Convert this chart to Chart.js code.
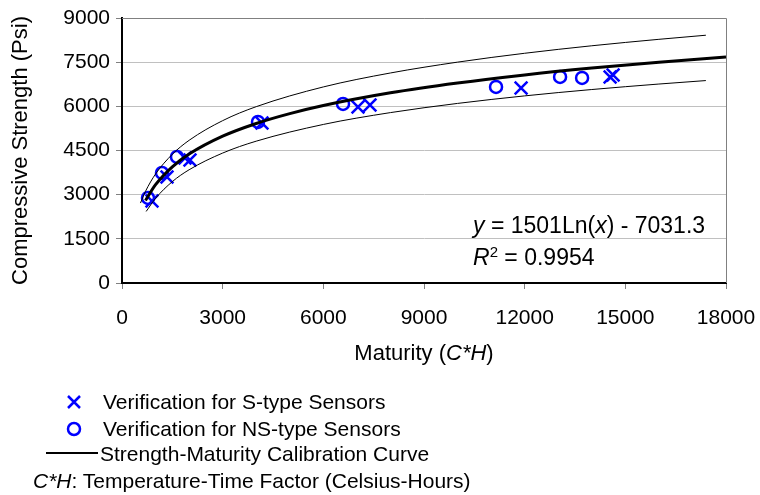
<!DOCTYPE html>
<html>
<head>
<meta charset="utf-8">
<script src="https://cdn.jsdelivr.net/npm/chart.js@4.4.0/dist/chart.umd.min.js"></script>
<style>
body{margin:0;background:#fff;}
#wrap{position:relative;width:760px;height:495px;font-family:'Liberation Sans',Arial,sans-serif;color:#000;}
#wrap canvas{position:absolute;left:0;top:0;}
.txt{position:absolute;white-space:nowrap;line-height:1;font-size:22px;}
.eq{position:absolute;white-space:nowrap;line-height:1;font-size:23px;}
.leg{position:absolute;white-space:nowrap;line-height:1;font-size:21px;}
.leg svg{position:absolute;}
</style>
</head>
<body>
<div id="wrap">
  <canvas id="chart" width="760" height="495"></canvas>
  <div class="txt" style="left:424px;top:342px;transform:translateX(-50%);">Maturity (<i>C*H</i>)</div>
  <div class="eq" style="left:473px;top:214px;"><i>y</i> = 1501Ln(<i>x</i>) - 7031.3</div>
  <div class="eq" style="left:473px;top:244px;"><i>R</i><sup style="font-size:15px;vertical-align:8px;">2</sup> = 0.9954</div>
  <div class="leg" style="left:103px;top:391px;"><svg style="left:-37px;top:3px" width="16" height="16"><path d="M2 2L14 14M14 2L2 14" stroke="#0000ff" stroke-width="2.5"/></svg>Verification for S-type Sensors</div>
  <div class="leg" style="left:103px;top:418px;"><svg style="left:-38px;top:2px" width="18" height="18"><circle cx="9" cy="9" r="6" fill="none" stroke="#0000ff" stroke-width="2.5"/></svg>Verification for NS-type Sensors</div>
  <div class="leg" style="left:100px;top:443px;"><svg style="left:-54px;top:8px" width="52" height="4"><line x1="0" y1="2" x2="52" y2="2" stroke="#000" stroke-width="2"/></svg>Strength-Maturity Calibration Curve</div>
  <div class="leg" style="left:33px;top:470px;"><i>C*H</i>: Temperature-Time Factor (Celsius-Hours)</div>
</div>
<script>
// verification points
var sX = [894, 1341, 1877, 2026, 4171, 7033, 7391, 11893, 14546, 14636];
var sY = [2785, 3600, 4246, 4178, 5435, 5978, 6046, 6624, 6997, 7065];
var nsX = [775, 1192, 1639, 4053, 6587, 11147, 13055, 13711];
var nsY = [2887, 3736, 4280, 5469, 6080, 6658, 6997, 6963];
// calibration curve and its bands
var curveX = [700, 1000, 1500, 2000, 3000, 4000, 5000, 6000, 8000, 10000, 12000, 14000, 16000, 18000];
var curveY = [2802, 3338, 3946, 4378, 4986, 5418, 5753, 6028, 6459, 6793, 7068, 7299, 7499, 7676];
var upperX = [550, 700, 1000, 1500, 2000, 3000, 4000, 6000, 8000, 10000, 12000, 14000, 16000, 17400];
var upperY = [2715, 3113, 3702, 4371, 4846, 5514, 5989, 6659, 7133, 7501, 7802, 8057, 8276, 8415];
var lowerX = [720, 1000, 1500, 2000, 3000, 4000, 6000, 8000, 10000, 12000, 14000, 16000, 17400];
var lowerY = [2430, 2876, 3443, 3846, 4413, 4817, 5385, 5787, 6099, 6355, 6571, 6757, 6875];
var xTicks = [0, 3000, 6000, 9000, 12000, 15000, 18000];
var yTicks = [0, 1500, 3000, 4500, 6000, 7500, 9000];

function pts(xs, ys){ return xs.map(function(x, i){ return {x: x, y: ys[i]}; }); }
function curve(xs, ys, w){
  return {data: pts(xs, ys), showLine: true, borderColor: '#000', borderWidth: w, pointRadius: 0,
    cubicInterpolationMode: 'monotone', fill: false};
}

var frame = {
  id: 'frame',
  beforeDatasetsDraw: function(c){
    var a = c.chartArea, ctx = c.ctx;
    ctx.save();
    ctx.strokeStyle = '#808080'; ctx.lineWidth = 1;
    ctx.beginPath();
    ctx.moveTo(a.left, a.top + 0.5); ctx.lineTo(a.right + 0.5, a.top + 0.5); ctx.lineTo(a.right + 0.5, a.bottom);
    ctx.stroke();
    ctx.restore();
  }
};

var font = {family: "'Liberation Sans', Arial, sans-serif", size: 21};
var titleFont = {family: "'Liberation Sans', Arial, sans-serif", size: 22};
new Chart(document.getElementById('chart'), {
  type: 'scatter',
  data: {datasets: [
    curve(curveX, curveY, 3),
    curve(upperX, upperY, 1),
    curve(lowerX, lowerY, 1),
    {data: pts(sX, sY), pointStyle: 'crossRot', pointRadius: 9, borderColor: '#0000ff', borderWidth: 2.5, backgroundColor: 'rgba(0,0,0,0)'},
    {data: pts(nsX, nsY), pointStyle: 'circle', pointRadius: 6, borderColor: '#0000ff', borderWidth: 2.5, backgroundColor: 'rgba(0,0,0,0)'}
  ]},
  options: {
    responsive: false, animation: false,
    layout: {padding: {left: 0, top: 18, right: 34, bottom: 162}},
    plugins: {legend: {display: false}, tooltip: {enabled: false}},
    scales: {
      x: {
        min: 0, max: 18000,
        afterBuildTicks: function(s){ s.ticks = xTicks.map(function(v){ return {value: v}; }); },
        afterFit: function(s){ s.height = 50; s.paddingLeft = 0; s.paddingRight = 0; },
        ticks: {color: '#000', font: font, padding: 17, maxRotation: 0, callback: function(v){ return String(v); }},
        grid: {drawOnChartArea: false, tickColor: '#808080', tickLength: 6},
        border: {color: '#000', width: 2}
      },
      y: {
        min: 0, max: 9000,
        afterBuildTicks: function(s){ s.ticks = yTicks.map(function(v){ return {value: v}; }); },
        afterFit: function(s){ s.width = 122; s.paddingTop = 0; s.paddingBottom = 0; },
        ticks: {color: '#000', font: font, padding: 6, callback: function(v){ return String(v); }},
        grid: {color: '#c0c0c0', tickColor: '#808080', tickLength: 6},
        border: {color: '#000', width: 2},
        title: {display: true, text: 'Compressive Strength (Psi)', color: '#000', font: titleFont, padding: {top: 8, bottom: 0}}
      }
    }
  },
  plugins: [frame]
});
</script>
</body>
</html>
